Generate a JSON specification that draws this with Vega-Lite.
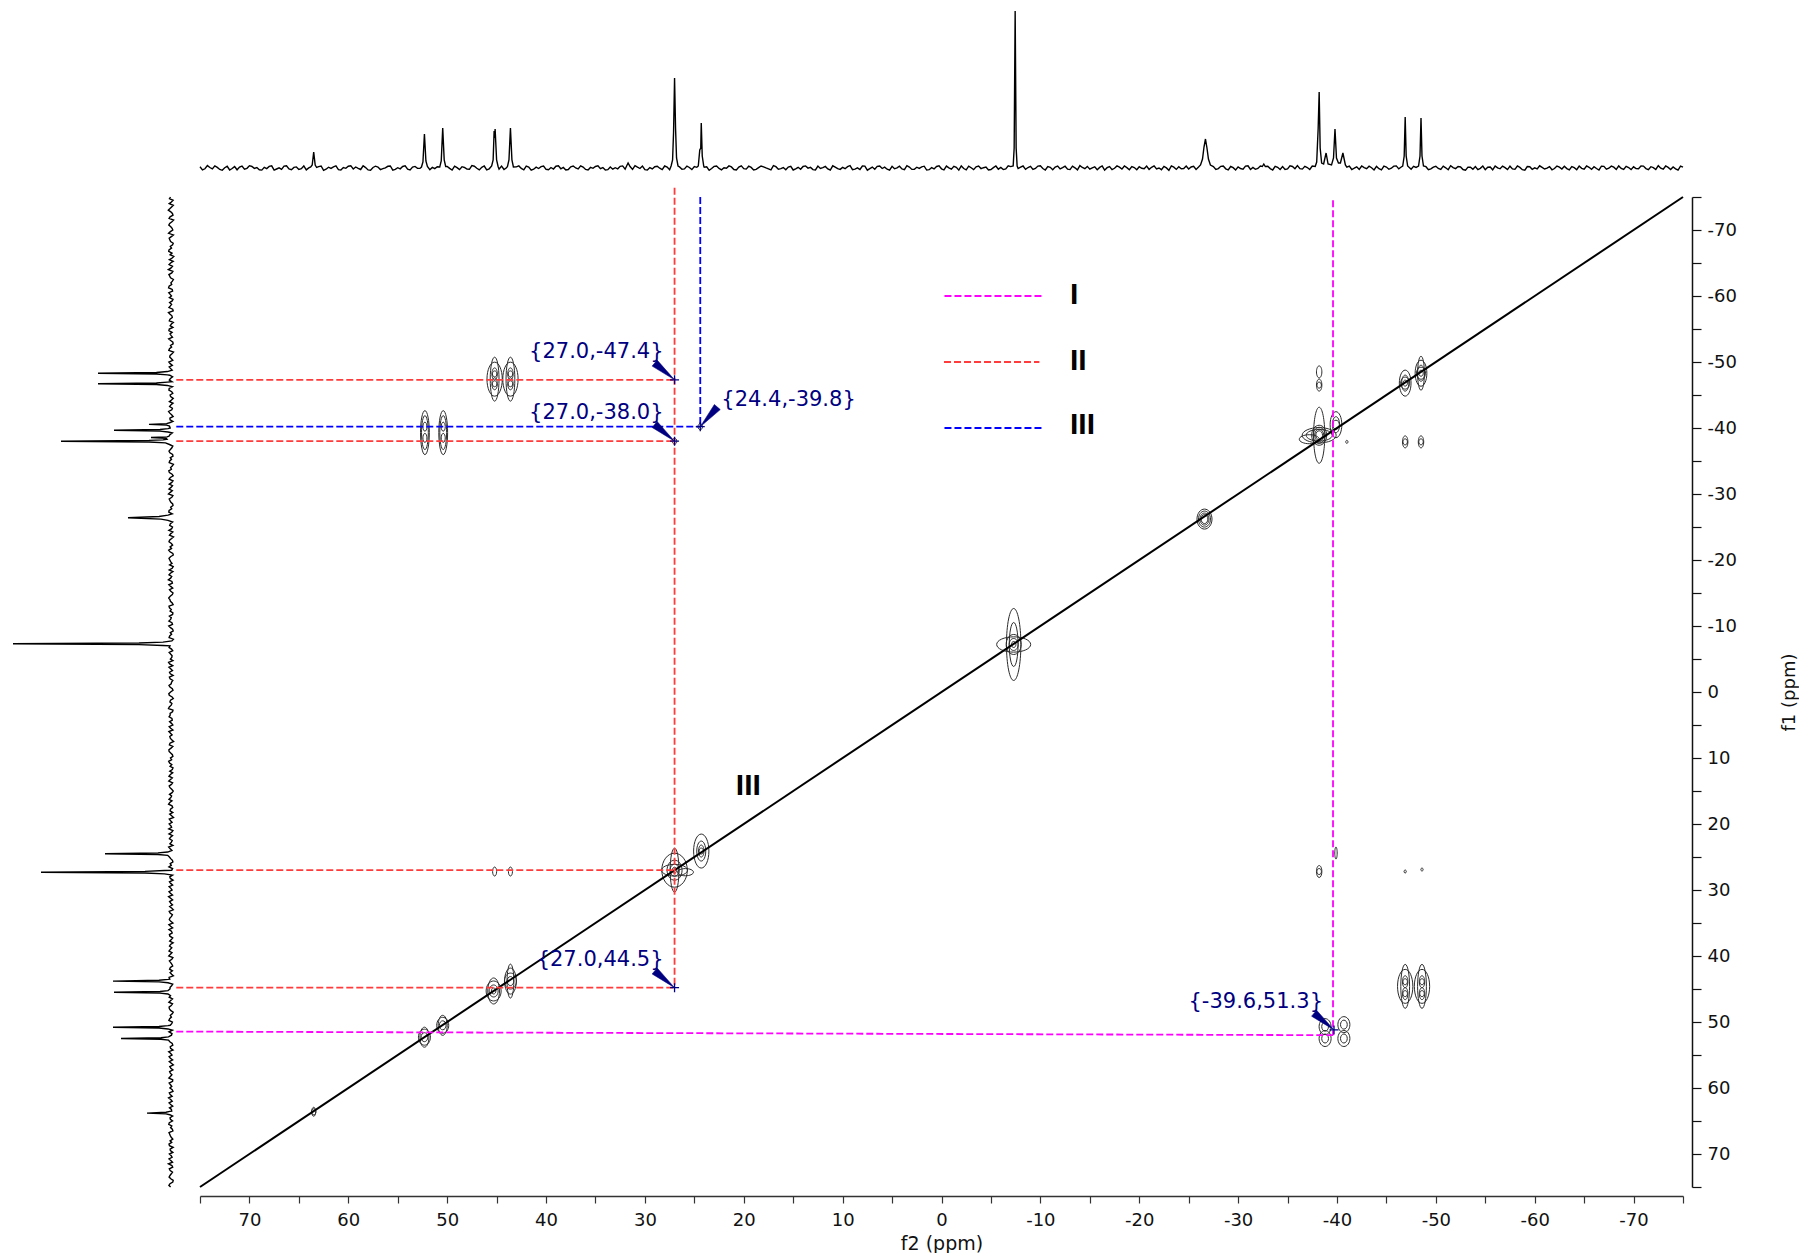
{
"$schema": "https://vega.github.io/schema/vega-lite/v6.json",
"background": "white",
"padding": {"left": 10, "top": 8, "right": 0, "bottom": 0},
"config": {"view": {"stroke": null}, "font": "DejaVu Sans"},
"bounds": "flush",
"spacing": 24,
"columns": 2,
"resolve": {"scale": {"x": "independent", "y": "independent"}, "axis": {"x": "independent", "y": "independent"}},
"datasets": {
"top": [
{"p":75.0,"i":1.2},{"p":74.5,"i":-0.8},{"p":74.0,"i":0.5},{"p":73.5,"i":2.1},{"p":73.0,"i":-1.5},{"p":72.5,"i":0.3},{"p":72.0,"i":-2.0},{"p":71.5,"i":1.4},{"p":71.0,"i":0.9},{"p":70.5,"i":-1.1},
{"p":70.0,"i":2.3},{"p":69.5,"i":-0.4},{"p":69.0,"i":-1.8},{"p":68.5,"i":0.7},{"p":68.0,"i":1.6},{"p":67.5,"i":-2.2},{"p":67.0,"i":0.2},{"p":66.5,"i":1.9},{"p":66.0,"i":-0.9},{"p":65.5,"i":0.6},
{"p":65.0,"i":-1.4},{"p":64.5,"i":2.0},{"p":64.0,"i":0.1},{"p":63.8,"i":1},{"p":63.65,"i":3},{"p":63.5,"i":16},{"p":63.35,"i":3},{"p":63.2,"i":0.5},{"p":63.0,"i":1.3},{"p":62.5,"i":-2.4},
{"p":62.0,"i":0.8},{"p":61.5,"i":1.1},{"p":61.0,"i":-1.6},{"p":60.5,"i":0.4},{"p":60.0,"i":1.8},{"p":59.5,"i":-1.0},{"p":59.0,"i":-0.3},{"p":58.5,"i":2.2},{"p":58.0,"i":-1.9},{"p":57.5,"i":0.5},
{"p":57.0,"i":1.0},{"p":56.5,"i":-0.6},{"p":56.0,"i":1.7},{"p":55.5,"i":-2.1},{"p":55.0,"i":0.3},{"p":54.5,"i":1.5},{"p":54.0,"i":-1.2},{"p":53.5,"i":0.9},{"p":53.0,"i":-0.2},
{"p":52.6,"i":1},{"p":52.45,"i":6},{"p":52.3,"i":34},{"p":52.15,"i":7},{"p":52.0,"i":1.5},{"p":51.5,"i":0.6},{"p":51.0,"i":1.2},
{"p":50.75,"i":1},{"p":50.6,"i":7},{"p":50.45,"i":40},{"p":50.3,"i":8},{"p":50.15,"i":1.5},{"p":50.0,"i":1.6},{"p":49.5,"i":-2.0},{"p":49.0,"i":0.4},{"p":48.5,"i":1.3},{"p":48.0,"i":-1.1},
{"p":47.5,"i":2.4},{"p":47.0,"i":-0.3},{"p":46.5,"i":0.7},{"p":46.0,"i":-1.8},
{"p":45.5,"i":2},{"p":45.35,"i":8},{"p":45.25,"i":37},{"p":45.2,"i":30},{"p":45.15,"i":39},{"p":45.0,"i":8},{"p":44.85,"i":1.5},{"p":44.5,"i":1.9},{"p":44.0,"i":0.2},
{"p":43.9,"i":1.5},{"p":43.75,"i":8},{"p":43.6,"i":40},{"p":43.45,"i":8},{"p":43.3,"i":1},{"p":43.0,"i":1.1},{"p":42.5,"i":-0.4},{"p":42.0,"i":2.0},{"p":41.5,"i":-2.2},{"p":41.0,"i":0.8},
{"p":40.5,"i":1.4},{"p":40.0,"i":-1.3},{"p":39.5,"i":0.5},{"p":39.0,"i":1.8},{"p":38.5,"i":-0.8},{"p":38.0,"i":-1.9},{"p":37.5,"i":1.2},{"p":37.0,"i":0.0},{"p":36.5,"i":2.2},{"p":36.0,"i":-1.4},
{"p":35.5,"i":0.6},{"p":35.0,"i":1.5},{"p":34.5,"i":-0.7},{"p":34.0,"i":-2.1},{"p":33.5,"i":1.0},{"p":33.0,"i":0.3},{"p":32.5,"i":1.7},{"p":32.0,"i":-1.2},{"p":31.85,"i":2},{"p":31.7,"i":5},{"p":31.5,"i":1.5},
{"p":31.0,"i":2.3},{"p":30.5,"i":-0.5},{"p":30.0,"i":-1.6},{"p":29.5,"i":0.4},{"p":29.0,"i":1.3},{"p":28.5,"i":-0.2},{"p":28.0,"i":2.0},{"p":27.5,"i":-1.8},
{"p":27.35,"i":2},{"p":27.2,"i":8},{"p":27.1,"i":36},{"p":27.0,"i":90},{"p":26.9,"i":40},{"p":26.8,"i":10},{"p":26.65,"i":2},{"p":26.5,"i":1.1},{"p":26.0,"i":-0.9},{"p":25.5,"i":0.5},{"p":25.0,"i":1.4},
{"p":24.6,"i":2},{"p":24.45,"i":18},{"p":24.35,"i":20},{"p":24.3,"i":45},{"p":24.2,"i":12},{"p":24.05,"i":2},{"p":24.0,"i":0.8},{"p":23.5,"i":-2.3},{"p":23.0,"i":1.6},{"p":22.5,"i":-0.4},
{"p":22.0,"i":0.2},{"p":21.5,"i":2.1},{"p":21.0,"i":-1.5},{"p":20.5,"i":0.9},{"p":20.0,"i":-0.6},{"p":19.5,"i":1.8},{"p":19.0,"i":-1.9},{"p":18.5,"i":0.3},{"p":18.0,"i":1.2},{"p":17.5,"i":-0.8},
{"p":17.0,"i":2.4},{"p":16.5,"i":-1.3},{"p":16.0,"i":0.5},{"p":15.5,"i":1.0},{"p":15.0,"i":-2.0},{"p":14.5,"i":0.7},{"p":14.0,"i":1.5},{"p":13.5,"i":-0.1},{"p":13.0,"i":-1.6},{"p":12.5,"i":1.9},
{"p":12.0,"i":0.4},{"p":11.5,"i":-1.0},{"p":11.0,"i":2.2},{"p":10.5,"i":-0.7},{"p":10.0,"i":0.6},{"p":9.5,"i":1.3},{"p":9.0,"i":-1.7},{"p":8.5,"i":0.1},{"p":8.0,"i":2.0},{"p":7.5,"i":-2.2},
{"p":7.0,"i":0.9},{"p":6.5,"i":1.6},{"p":6.0,"i":-0.5},{"p":5.5,"i":-1.2},{"p":5.0,"i":1.7},{"p":4.5,"i":0.2},{"p":4.0,"i":-0.9},{"p":3.5,"i":2.3},{"p":3.0,"i":-1.4},{"p":2.5,"i":0.8},
{"p":2.0,"i":1.1},{"p":1.5,"i":-2.1},{"p":1.0,"i":0.4},{"p":0.5,"i":1.5},{"p":0.0,"i":-0.8},{"p":-0.5,"i":1.9},{"p":-1.0,"i":-1.1},{"p":-1.5,"i":0.6},{"p":-2.0,"i":2.1},{"p":-2.5,"i":-1.8},
{"p":-3.0,"i":0.3},{"p":-3.5,"i":1.2},{"p":-4.0,"i":-0.6},{"p":-4.5,"i":0.9},{"p":-5.0,"i":-1.5},{"p":-5.5,"i":2.0},{"p":-6.0,"i":0.5},{"p":-6.5,"i":-1.0},{"p":-7.0,"i":1.4},
{"p":-7.25,"i":2},{"p":-7.35,"i":20},{"p":-7.45,"i":157},{"p":-7.55,"i":20},{"p":-7.65,"i":2},{"p":-8.0,"i":0.8},{"p":-8.5,"i":-1.3},{"p":-9.0,"i":1.6},{"p":-9.5,"i":-0.4},
{"p":-10.0,"i":2.2},{"p":-10.5,"i":-2.0},{"p":-11.0,"i":0.7},{"p":-11.5,"i":1.0},{"p":-12.0,"i":-0.9},{"p":-12.5,"i":1.8},{"p":-13.0,"i":-1.6},{"p":-13.5,"i":0.2},{"p":-14.0,"i":2.4},{"p":-14.5,"i":-0.7},
{"p":-15.0,"i":-1.2},{"p":-15.5,"i":1.1},{"p":-16.0,"i":0.6},{"p":-16.5,"i":-2.2},{"p":-17.0,"i":1.5},{"p":-17.5,"i":-0.3},{"p":-18.0,"i":0.9},{"p":-18.5,"i":2.0},{"p":-19.0,"i":-1.7},{"p":-19.5,"i":0.4},
{"p":-20.0,"i":1.3},{"p":-20.5,"i":-0.8},{"p":-21.0,"i":-1.4},{"p":-21.5,"i":2.1},{"p":-22.0,"i":0.0},{"p":-22.5,"i":1.6},{"p":-23.0,"i":-2.3},{"p":-23.5,"i":0.8},{"p":-24.0,"i":1.2},{"p":-24.5,"i":-0.5},
{"p":-25.0,"i":-1.0},{"p":-25.5,"i":1.7},{"p":-26.0,"i":0.9},{"p":-26.2,"i":3},{"p":-26.4,"i":9},{"p":-26.55,"i":21},{"p":-26.7,"i":29},{"p":-26.85,"i":20},{"p":-27.0,"i":9},{"p":-27.2,"i":3},
{"p":-27.5,"i":1.4},{"p":-28.0,"i":-0.6},{"p":-28.5,"i":2.0},{"p":-29.0,"i":-1.9},{"p":-29.5,"i":0.3},{"p":-30.0,"i":1.1},{"p":-30.5,"i":-1.3},{"p":-31.0,"i":2.2},{"p":-31.5,"i":0.6},{"p":-32.0,"i":-0.4},
{"p":-32.45,"i":1.5},{"p":-32.6,"i":4},{"p":-32.75,"i":1.5},{"p":-33.0,"i":1.8},{"p":-33.5,"i":-2.0},{"p":-34.0,"i":0.7},{"p":-34.5,"i":1.4},{"p":-35.0,"i":-0.9},{"p":-35.5,"i":1.5},{"p":-36.0,"i":2.4},
{"p":-36.5,"i":-1.1},{"p":-37.0,"i":0.5},{"p":-37.5,"i":1.9},
{"p":-37.8,"i":1.5},{"p":-37.95,"i":6},{"p":-38.1,"i":40},{"p":-38.2,"i":76},{"p":-38.3,"i":20},{"p":-38.45,"i":5},{"p":-38.65,"i":4},{"p":-38.9,"i":15},{"p":-39.1,"i":4},{"p":-39.45,"i":3},
{"p":-39.65,"i":10},{"p":-39.8,"i":39},{"p":-39.95,"i":10},{"p":-40.15,"i":5},{"p":-40.35,"i":5},{"p":-40.6,"i":15},{"p":-40.85,"i":3},
{"p":-41.0,"i":0.8},{"p":-41.5,"i":-1.5},{"p":-42.0,"i":1.2},{"p":-42.5,"i":2.0},{"p":-43.0,"i":-0.7},{"p":-43.5,"i":0.3},{"p":-44.0,"i":1.6},{"p":-44.5,"i":-1.8},{"p":-45.0,"i":0.9},{"p":-45.5,"i":-0.2},
{"p":-46.0,"i":2.1},{"p":-46.5,"i":1.0},{"p":-46.65,"i":2},{"p":-46.8,"i":12},{"p":-46.9,"i":51},{"p":-47.0,"i":12},{"p":-47.15,"i":2},{"p":-47.5,"i":-1.2},{"p":-48.0,"i":0.6},
{"p":-48.25,"i":2},{"p":-48.4,"i":12},{"p":-48.5,"i":50},{"p":-48.6,"i":12},{"p":-48.75,"i":2},{"p":-49.0,"i":1.3},{"p":-49.5,"i":-0.9},
{"p":-50.0,"i":1.7},{"p":-50.5,"i":-1.4},{"p":-51.0,"i":0.2},{"p":-51.5,"i":2.3},{"p":-52.0,"i":-0.6},{"p":-52.5,"i":1.1},{"p":-53.0,"i":-2.1},{"p":-53.5,"i":0.8},{"p":-54.0,"i":1.5},{"p":-54.5,"i":-0.3},
{"p":-55.0,"i":-1.7},{"p":-55.5,"i":1.0},{"p":-56.0,"i":2.0},{"p":-56.5,"i":-0.8},{"p":-57.0,"i":0.4},{"p":-57.5,"i":1.8},{"p":-58.0,"i":-1.3},{"p":-58.5,"i":0.6},{"p":-59.0,"i":-2.2},{"p":-59.5,"i":1.2},
{"p":-60.0,"i":0.1},{"p":-60.5,"i":2.2},{"p":-61.0,"i":-1.0},{"p":-61.5,"i":1.4},{"p":-62.0,"i":-0.5},{"p":-62.5,"i":0.9},{"p":-63.0,"i":1.7},{"p":-63.5,"i":-1.9},{"p":-64.0,"i":0.3},{"p":-64.5,"i":2.0},
{"p":-65.0,"i":-1.1},{"p":-65.5,"i":0.7},{"p":-66.0,"i":1.3},{"p":-66.5,"i":-2.0},{"p":-67.0,"i":1.6},{"p":-67.5,"i":-0.2},{"p":-68.0,"i":0.8},{"p":-68.5,"i":2.1},{"p":-69.0,"i":-1.5},{"p":-69.5,"i":0.5},
{"p":-70.0,"i":1.2},{"p":-70.5,"i":-0.7},{"p":-71.0,"i":1.9},{"p":-71.5,"i":-1.6},{"p":-72.0,"i":0.4},{"p":-72.5,"i":2.3},{"p":-73.0,"i":-1.2},{"p":-73.5,"i":0.6},{"p":-74.0,"i":1.0},{"p":-74.5,"i":-2.0},{"p":-75.0,"i":0.8},
{"p":74.75,"i":-1.9},{"p":74.25,"i":2.4},{"p":73.75,"i":-0.9},{"p":73.25,"i":0.6},{"p":72.75,"i":-2.3},{"p":72.25,"i":1.7},{"p":71.75,"i":-0.5},{"p":71.25,"i":-1.8},{"p":70.75,"i":2.0},{"p":70.25,"i":-0.3},
{"p":69.75,"i":1.5},{"p":69.25,"i":0.4},{"p":68.75,"i":-2.1},{"p":68.25,"i":-0.6},{"p":67.75,"i":2.2},{"p":67.25,"i":-1.0},{"p":66.75,"i":-1.4},{"p":66.25,"i":2.3},{"p":65.75,"i":-1.7},{"p":65.25,"i":1.1},
{"p":64.75,"i":-0.7},{"p":64.25,"i":-1.9},{"p":62.75,"i":2.0},{"p":62.25,"i":-1.2},{"p":61.75,"i":-0.4},{"p":61.25,"i":2.1},{"p":60.75,"i":-2.0},{"p":60.25,"i":-0.3},
{"p":59.75,"i":2.3},{"p":59.25,"i":1.0},{"p":58.75,"i":-1.5},{"p":58.25,"i":0.4},{"p":57.75,"i":-2.2},{"p":57.25,"i":1.8},{"p":56.75,"i":-1.6},{"p":56.25,"i":0.2},{"p":55.75,"i":2.0},{"p":55.25,"i":-1.3},
{"p":54.75,"i":-0.8},{"p":54.25,"i":2.2},{"p":53.75,"i":-1.9},{"p":53.25,"i":1.6},{"p":52.75,"i":-0.4},{"p":51.75,"i":-1.7},{"p":51.25,"i":-0.6},
{"p":49.75,"i":-0.4},{"p":49.25,"i":1.9},{"p":48.75,"i":-1.6},{"p":48.25,"i":0.5},{"p":47.75,"i":-1.3},{"p":47.25,"i":1.8},{"p":46.75,"i":-1.9},{"p":46.25,"i":2.0},{"p":45.75,"i":-0.8},
{"p":44.75,"i":-1.2},{"p":44.25,"i":-1.5},{"p":42.75,"i":2.1},{"p":42.25,"i":-1.8},{"p":41.75,"i":1.0},{"p":41.25,"i":-1.2},{"p":40.75,"i":-0.5},{"p":40.25,"i":2.0},
{"p":39.75,"i":-1.7},{"p":39.25,"i":-1.0},{"p":38.75,"i":2.3},{"p":38.25,"i":0.6},{"p":37.75,"i":-1.5},{"p":37.25,"i":2.0},{"p":36.75,"i":-0.9},{"p":36.25,"i":0.9},{"p":35.75,"i":-2.0},{"p":35.25,"i":-0.3},
{"p":34.75,"i":2.2},{"p":34.25,"i":0.5},{"p":33.75,"i":-1.7},{"p":33.25,"i":-1.2},{"p":32.75,"i":-0.8},{"p":32.25,"i":2.1},{"p":31.25,"i":-1.4},{"p":30.75,"i":0.8},{"p":30.25,"i":1.9},
{"p":29.75,"i":-2.1},{"p":29.25,"i":-0.9},{"p":28.75,"i":1.8},{"p":28.25,"i":-1.6},{"p":27.75,"i":0.9},{"p":26.25,"i":-1.3},{"p":25.75,"i":1.9},{"p":25.25,"i":-1.6},
{"p":24.75,"i":0.7},{"p":23.75,"i":1.2},{"p":23.25,"i":-0.5},{"p":22.75,"i":1.9},{"p":22.25,"i":-1.8},{"p":21.75,"i":-0.2},{"p":21.25,"i":1.1},{"p":20.75,"i":-2.0},{"p":20.25,"i":2.2},
{"p":19.75,"i":-1.1},{"p":19.25,"i":0.6},{"p":18.75,"i":-1.4},{"p":18.25,"i":2.0},{"p":17.75,"i":0.1},{"p":17.25,"i":-1.9},{"p":16.75,"i":1.3},{"p":16.25,"i":-0.6},{"p":15.75,"i":-1.8},{"p":15.25,"i":1.7},
{"p":14.75,"i":-0.9},{"p":14.25,"i":-1.3},{"p":13.75,"i":2.1},{"p":13.25,"i":0.6},{"p":12.75,"i":-1.9},{"p":12.25,"i":-0.4},{"p":11.75,"i":1.6},{"p":11.25,"i":-2.0},{"p":10.75,"i":0.9},{"p":10.25,"i":-1.4},
{"p":9.75,"i":-0.7},{"p":9.25,"i":2.3},{"p":8.75,"i":-1.1},{"p":8.25,"i":-1.5},{"p":7.75,"i":1.9},{"p":7.25,"i":-0.6},{"p":6.75,"i":-1.3},{"p":6.25,"i":2.0},{"p":5.75,"i":0.8},{"p":5.25,"i":-2.1},
{"p":4.75,"i":-0.8},{"p":4.25,"i":1.8},{"p":3.75,"i":-1.6},{"p":3.25,"i":0.9},{"p":2.75,"i":-1.2},{"p":2.25,"i":-0.4},{"p":1.75,"i":1.8},{"p":1.25,"i":-1.7},{"p":0.75,"i":-0.9},{"p":0.25,"i":2.1},
{"p":-0.25,"i":-1.8},{"p":-0.75,"i":0.2},{"p":-1.25,"i":1.7},{"p":-1.75,"i":-2.1},{"p":-2.25,"i":-0.5},{"p":-2.75,"i":1.9},{"p":-3.25,"i":-1.6},{"p":-3.75,"i":2.0},{"p":-4.25,"i":0.3},{"p":-4.75,"i":-1.9},
{"p":-5.25,"i":0.4},{"p":-5.75,"i":-1.2},{"p":-6.25,"i":-1.6},{"p":-6.75,"i":2.2},{"p":-7.75,"i":-0.6},{"p":-8.25,"i":2.0},{"p":-8.75,"i":0.5},{"p":-9.25,"i":-1.5},{"p":-9.75,"i":1.9},
{"p":-10.25,"i":-0.5},{"p":-10.75,"i":1.5},{"p":-11.25,"i":-1.8},{"p":-11.75,"i":2.0},{"p":-12.25,"i":0.3},{"p":-12.75,"i":-1.2},{"p":-13.25,"i":1.9},{"p":-13.75,"i":-1.9},{"p":-14.25,"i":0.5},{"p":-14.75,"i":1.6},
{"p":-15.25,"i":0.2},{"p":-15.75,"i":-1.7},{"p":-16.25,"i":2.1},{"p":-16.75,"i":0.3},{"p":-17.25,"i":-1.6},{"p":-17.75,"i":2.1},{"p":-18.25,"i":-1.1},{"p":-18.75,"i":0.4},{"p":-19.25,"i":1.4},{"p":-19.75,"i":-1.8},
{"p":-20.25,"i":-0.3},{"p":-20.75,"i":2.0},{"p":-21.25,"i":0.7},{"p":-21.75,"i":-1.0},{"p":-22.25,"i":-1.7},{"p":-22.75,"i":0.1},{"p":-23.25,"i":2.1},{"p":-23.75,"i":-1.4},{"p":-24.25,"i":-0.8},{"p":-24.75,"i":1.9},
{"p":-25.25,"i":1.0},{"p":-25.75,"i":-1.5},{"p":-27.75,"i":-1.5},{"p":-28.25,"i":1.7},{"p":-28.75,"i":-0.8},{"p":-29.25,"i":1.5},{"p":-29.75,"i":-2.0},
{"p":-30.25,"i":-0.5},{"p":-30.75,"i":1.9},{"p":-31.25,"i":-1.5},{"p":-31.75,"i":-1.3},{"p":-32.25,"i":1.9},{"p":-33.25,"i":-0.6},{"p":-33.75,"i":1.7},{"p":-34.25,"i":-1.5},{"p":-34.75,"i":-1.4},
{"p":-35.25,"i":2.1},{"p":-35.75,"i":-0.8},{"p":-36.25,"i":-0.7},{"p":-36.75,"i":1.6},{"p":-37.25,"i":-1.5},{"p":-41.25,"i":1.9},{"p":-41.75,"i":-0.2},{"p":-42.25,"i":-1.4},{"p":-42.75,"i":0.4},
{"p":-43.25,"i":1.8},{"p":-43.75,"i":-1.9},{"p":-44.25,"i":-0.7},{"p":-44.75,"i":1.8},{"p":-45.25,"i":-1.3},{"p":-45.75,"i":1.9},{"p":-46.25,"i":-0.9},{"p":-47.75,"i":1.7},
{"p":-49.25,"i":-1.6},{"p":-49.75,"i":0.8},{"p":-50.25,"i":-0.5},{"p":-50.75,"i":1.9},{"p":-51.25,"i":-1.7},{"p":-51.75,"i":0.4},{"p":-52.25,"i":1.5},{"p":-52.75,"i":-1.5},
{"p":-53.25,"i":0.9},{"p":-53.75,"i":-1.3},{"p":-54.25,"i":-1.6},{"p":-54.75,"i":2.0},{"p":-55.25,"i":0.8},{"p":-55.75,"i":-1.8},{"p":-56.25,"i":0.1},{"p":-56.75,"i":1.9},{"p":-57.25,"i":-1.6},{"p":-57.75,"i":-0.9},
{"p":-58.25,"i":2.0},{"p":-58.75,"i":-1.7},{"p":-59.25,"i":1.4},{"p":-59.75,"i":-1.3},{"p":-60.25,"i":-0.9},{"p":-60.75,"i":0.6},{"p":-61.25,"i":-0.1},{"p":-61.75,"i":-1.8},{"p":-62.25,"i":2.0},{"p":-62.75,"i":-1.0},
{"p":-63.25,"i":-0.6},{"p":-63.75,"i":1.4},{"p":-64.25,"i":-1.7},{"p":-64.75,"i":-0.3},{"p":-65.25,"i":2.0},{"p":-65.75,"i":-1.4},{"p":-66.25,"i":-0.5},{"p":-66.75,"i":1.8},{"p":-67.25,"i":-1.1},{"p":-67.75,"i":1.9},
{"p":-68.25,"i":-1.5},{"p":-68.75,"i":-0.4},{"p":-69.25,"i":1.7},{"p":-69.75,"i":-1.6},{"p":-70.25,"i":-0.5},{"p":-70.75,"i":2.0},{"p":-71.25,"i":-0.6},{"p":-71.75,"i":1.3},{"p":-72.25,"i":-1.5},{"p":-72.75,"i":-0.2},
{"p":-73.25,"i":2.0},{"p":-73.75,"i":-1.5},{"p":-74.25,"i":-0.8},{"p":-74.75,"i":1.9}
],
"left": [
{"p":-75.0,"i":0.5},{"p":-74.5,"i":-2.1},{"p":-74.0,"i":1.8},{"p":-73.5,"i":-0.6},{"p":-73.0,"i":2.7},{"p":-72.5,"i":-1.4},{"p":-72.0,"i":0.9},{"p":-71.5,"i":-2.6},{"p":-71.0,"i":1.3},{"p":-70.5,"i":0.2},
{"p":-70.0,"i":-1.8},{"p":-69.5,"i":2.4},{"p":-69.0,"i":-0.3},{"p":-68.5,"i":1.1},{"p":-68.0,"i":-2.2},{"p":-67.5,"i":0.7},{"p":-67.0,"i":2.0},{"p":-66.5,"i":-1.0},{"p":-66.0,"i":-2.8},{"p":-65.5,"i":1.6},
{"p":-65.0,"i":0.4},{"p":-64.5,"i":-1.5},{"p":-64.0,"i":2.6},{"p":-63.5,"i":-0.8},{"p":-63.0,"i":1.2},{"p":-62.5,"i":-2.4},{"p":-62.0,"i":0.1},{"p":-61.5,"i":1.9},{"p":-61.0,"i":-1.2},{"p":-60.5,"i":2.2},
{"p":-60.0,"i":-0.5},{"p":-59.5,"i":-2.0},{"p":-59.0,"i":1.4},{"p":-58.5,"i":0.6},{"p":-58.0,"i":-1.7},{"p":-57.5,"i":2.5},{"p":-57.0,"i":-0.9},{"p":-56.5,"i":1.0},{"p":-56.0,"i":-2.3},{"p":-55.5,"i":0.8},
{"p":-55.0,"i":1.7},{"p":-54.5,"i":-1.1},{"p":-54.0,"i":-0.2},{"p":-53.5,"i":2.3},{"p":-53.0,"i":-1.9},{"p":-52.5,"i":0.5},{"p":-52.0,"i":1.5},{"p":-51.5,"i":-2.5},{"p":-51.0,"i":0.9},{"p":-50.5,"i":-0.4},
{"p":-50.0,"i":2.1},{"p":-49.5,"i":-1.3},{"p":-49.0,"i":0.3},{"p":-48.55,"i":3.6},{"p":-48.42,"i":14.6},{"p":-48.3,"i":73},{"p":-48.18,"i":14.6},{"p":-48.05,"i":3.6},{"p":-48.0,"i":1.2},{"p":-47.5,"i":0.6},
{"p":-47.0,"i":-1.0},{"p":-46.95,"i":3.6},{"p":-46.82,"i":14.6},{"p":-46.7,"i":73},{"p":-46.58,"i":14.6},{"p":-46.45,"i":3.6},{"p":-46.0,"i":1.8},{"p":-45.5,"i":-0.7},{"p":-45.0,"i":0.9},{"p":-44.5,"i":-2.2},
{"p":-44.0,"i":1.6},{"p":-43.5,"i":0.2},{"p":-43.0,"i":-1.4},{"p":-42.5,"i":2.4},{"p":-42.0,"i":-0.6},{"p":-41.5,"i":1.1},{"p":-41.0,"i":-1.9},
{"p":-40.8,"i":1.5},{"p":-40.67,"i":4.4},{"p":-40.55,"i":22},{"p":-40.43,"i":4.4},{"p":-40.3,"i":1.5},{"p":-40.0,"i":0.8},
{"p":-39.9,"i":3},{"p":-39.77,"i":11},{"p":-39.65,"i":57},{"p":-39.53,"i":11},{"p":-39.4,"i":3},{"p":-39.0,"i":1.0},
{"p":-38.75,"i":2},{"p":-38.65,"i":4},{"p":-38.55,"i":20},{"p":-38.45,"i":5},{"p":-38.3,"i":4},{"p":-38.2,"i":8},{"p":-38.12,"i":22},{"p":-38.0,"i":110},{"p":-37.88,"i":22},{"p":-37.75,"i":5.5},
{"p":-37.5,"i":1.5},{"p":-37.0,"i":-0.9},{"p":-36.5,"i":2.0},{"p":-36.0,"i":-1.6},{"p":-35.5,"i":0.7},{"p":-35.0,"i":1.3},{"p":-34.5,"i":-2.4},{"p":-34.0,"i":0.4},{"p":-33.5,"i":2.2},{"p":-33.0,"i":-1.1},
{"p":-32.5,"i":0.6},{"p":-32.0,"i":-2.0},{"p":-31.5,"i":1.7},{"p":-31.0,"i":0.0},{"p":-30.5,"i":-1.3},{"p":-30.0,"i":2.5},{"p":-29.5,"i":-0.8},{"p":-29.0,"i":1.0},{"p":-28.5,"i":-1.7},{"p":-28.0,"i":0.3},
{"p":-27.5,"i":1.9},{"p":-27.0,"i":-1.2},{"p":-26.8,"i":3},{"p":-26.6,"i":12},{"p":-26.4,"i":43},{"p":-26.2,"i":10},{"p":-26.0,"i":3},{"p":-25.5,"i":0.6},{"p":-25.0,"i":-1.5},{"p":-24.5,"i":2.1},
{"p":-24.0,"i":0.2},{"p":-23.5,"i":-2.5},{"p":-23.0,"i":1.4},{"p":-22.5,"i":-0.4},{"p":-22.0,"i":0.9},{"p":-21.5,"i":2.3},{"p":-21.0,"i":-1.8},{"p":-20.5,"i":0.5},{"p":-20.0,"i":1.2},{"p":-19.5,"i":-1.0},
{"p":-19.0,"i":-2.2},{"p":-18.5,"i":1.8},{"p":-18.0,"i":0.6},{"p":-17.5,"i":-0.7},{"p":-17.0,"i":2.6},{"p":-16.5,"i":-1.4},{"p":-16.0,"i":0.3},{"p":-15.5,"i":1.5},{"p":-15.0,"i":-2.0},{"p":-14.5,"i":0.8},
{"p":-14.0,"i":1.1},{"p":-13.5,"i":-1.2},{"p":-13.0,"i":2.0},{"p":-12.5,"i":-0.3},{"p":-12.0,"i":-1.9},{"p":-11.5,"i":1.6},{"p":-11.0,"i":0.4},{"p":-10.5,"i":-0.9},{"p":-10.0,"i":2.2},{"p":-9.5,"i":-1.6},
{"p":-9.0,"i":0.7},{"p":-8.5,"i":1.3},{"p":-8.0,"i":-2.4},{"p":-7.55,"i":8},{"p":-7.42,"i":32},{"p":-7.3,"i":158},{"p":-7.18,"i":32},{"p":-7.05,"i":8},{"p":-7.0,"i":1.0},{"p":-6.5,"i":-0.5},
{"p":-6.0,"i":1.8},{"p":-5.5,"i":-1.1},{"p":-5.0,"i":0.6},{"p":-4.5,"i":2.4},{"p":-4.0,"i":-1.7},{"p":-3.5,"i":0.1},{"p":-3.0,"i":1.5},{"p":-2.5,"i":-2.1},{"p":-2.0,"i":0.9},{"p":-1.5,"i":-0.6},
{"p":-1.0,"i":2.0},{"p":-0.5,"i":-1.3},{"p":0.0,"i":0.4},{"p":0.5,"i":1.7},{"p":1.0,"i":-2.3},{"p":1.5,"i":1.1},{"p":2.0,"i":-0.2},{"p":2.5,"i":2.5},{"p":3.0,"i":-1.5},{"p":3.5,"i":0.8},
{"p":4.0,"i":-0.9},{"p":4.5,"i":1.4},{"p":5.0,"i":-1.8},{"p":5.5,"i":0.3},{"p":6.0,"i":2.1},{"p":6.5,"i":-1.1},{"p":7.0,"i":0.7},{"p":7.5,"i":-2.6},{"p":8.0,"i":1.6},{"p":8.5,"i":0.0},
{"p":9.0,"i":1.9},{"p":9.5,"i":-1.4},{"p":10.0,"i":0.5},{"p":10.5,"i":2.3},{"p":11.0,"i":-0.8},{"p":11.5,"i":-2.0},{"p":12.0,"i":1.2},{"p":12.5,"i":0.6},{"p":13.0,"i":-1.3},{"p":13.5,"i":2.2},
{"p":14.0,"i":-0.4},{"p":14.5,"i":1.0},{"p":15.0,"i":-2.2},{"p":15.5,"i":1.5},{"p":16.0,"i":0.2},{"p":16.5,"i":-1.0},{"p":17.0,"i":2.4},{"p":17.5,"i":-1.7},{"p":18.0,"i":0.9},{"p":18.5,"i":1.3},
{"p":19.0,"i":-2.5},{"p":19.5,"i":0.4},{"p":20.0,"i":1.8},{"p":20.5,"i":-0.6},{"p":21.0,"i":-1.9},{"p":21.5,"i":2.0},{"p":22.0,"i":0.5},{"p":22.5,"i":-1.2},{"p":23.0,"i":1.1},{"p":23.5,"i":2.3},
{"p":24.0,"i":-0.9},{"p":24.25,"i":3.3},{"p":24.38,"i":13},{"p":24.5,"i":66},{"p":24.62,"i":13},{"p":24.75,"i":3.3},{"p":25.0,"i":1.6},{"p":25.5,"i":-1.4},{"p":26.0,"i":0.8},{"p":26.5,"i":2.1},
{"p":27.0,"i":-0.7},{"p":27.05,"i":6.5},{"p":27.18,"i":26},{"p":27.3,"i":130},{"p":27.42,"i":26},{"p":27.55,"i":6.5},{"p":28.0,"i":1.2},{"p":28.5,"i":-2.0},{"p":29.0,"i":0.3},{"p":29.5,"i":1.9},
{"p":30.0,"i":-1.1},{"p":30.5,"i":0.6},{"p":31.0,"i":2.4},{"p":31.5,"i":-1.6},{"p":32.0,"i":0.2},{"p":32.5,"i":1.3},{"p":33.0,"i":-2.3},{"p":33.5,"i":0.9},{"p":34.0,"i":-0.5},{"p":34.5,"i":1.7},
{"p":35.0,"i":-1.9},{"p":35.5,"i":0.4},{"p":36.0,"i":2.0},{"p":36.5,"i":-1.2},{"p":37.0,"i":1.1},{"p":37.5,"i":-0.3},{"p":38.0,"i":-2.1},{"p":38.5,"i":1.5},{"p":39.0,"i":0.7},{"p":39.5,"i":-1.0},
{"p":40.0,"i":2.2},{"p":40.5,"i":-0.8},{"p":41.0,"i":0.3},{"p":41.5,"i":-1.7},{"p":42.0,"i":1.4},{"p":42.5,"i":0.9},{"p":43.0,"i":-2.4},{"p":43.5,"i":1.2},
{"p":43.55,"i":3},{"p":43.68,"i":12},{"p":43.8,"i":58},{"p":43.92,"i":12},{"p":44.05,"i":3},{"p":44.5,"i":-0.6},{"p":45.0,"i":1.0},
{"p":45.25,"i":3},{"p":45.38,"i":11},{"p":45.5,"i":57},{"p":45.62,"i":11},{"p":45.75,"i":3},{"p":46.0,"i":0.5},{"p":46.5,"i":-1.5},{"p":47.0,"i":2.1},{"p":47.5,"i":-0.2},{"p":48.0,"i":1.6},
{"p":48.5,"i":-2.2},{"p":49.0,"i":0.7},{"p":49.5,"i":1.3},{"p":50.0,"i":-1.4},{"p":50.5,"i":0.8},
{"p":50.55,"i":3},{"p":50.68,"i":12},{"p":50.8,"i":58},{"p":50.92,"i":12},{"p":51.05,"i":3},{"p":51.5,"i":2.0},{"p":52.0,"i":-0.5},
{"p":52.25,"i":2.5},{"p":52.38,"i":10},{"p":52.5,"i":50},{"p":52.62,"i":10},{"p":52.75,"i":2.5},{"p":53.0,"i":1.2},{"p":53.5,"i":-1.8},{"p":54.0,"i":0.4},{"p":54.5,"i":2.3},
{"p":55.0,"i":-1.0},{"p":55.5,"i":0.6},{"p":56.0,"i":1.7},{"p":56.5,"i":-2.3},{"p":57.0,"i":0.2},{"p":57.5,"i":1.4},{"p":58.0,"i":-0.9},{"p":58.5,"i":2.1},{"p":59.0,"i":-1.6},{"p":59.5,"i":0.5},
{"p":60.0,"i":1.1},{"p":60.5,"i":-2.0},{"p":61.0,"i":0.8},{"p":61.5,"i":2.4},{"p":62.0,"i":-1.2},{"p":62.5,"i":0.3},{"p":63.0,"i":1.5},{"p":63.5,"i":-0.7},
{"p":63.55,"i":1.2},{"p":63.68,"i":5},{"p":63.8,"i":24},{"p":63.92,"i":5},{"p":64.05,"i":1.2},{"p":64.5,"i":1.0},
{"p":65.0,"i":-1.5},{"p":65.5,"i":2.2},{"p":66.0,"i":0.4},{"p":66.5,"i":-1.9},{"p":67.0,"i":1.3},{"p":67.5,"i":-0.4},{"p":68.0,"i":0.9},{"p":68.5,"i":2.0},{"p":69.0,"i":-2.1},{"p":69.5,"i":0.6},
{"p":70.0,"i":1.6},{"p":70.5,"i":-1.1},{"p":71.0,"i":0.2},{"p":71.5,"i":2.5},{"p":72.0,"i":-1.7},{"p":72.5,"i":0.8},{"p":73.0,"i":-0.3},{"p":73.5,"i":1.9},{"p":74.0,"i":-2.2},{"p":74.5,"i":1.0},{"p":75.0,"i":0.4},
{"p":-74.75,"i":1.5},{"p":-74.25,"i":-0.4},{"p":-73.75,"i":-2.3},{"p":-73.25,"i":1.0},{"p":-72.75,"i":0.2},{"p":-72.25,"i":-2.0},{"p":-71.75,"i":1.9},{"p":-71.25,"i":-0.9},{"p":-70.75,"i":2.2},{"p":-70.25,"i":-1.1},
{"p":-69.75,"i":0.6},{"p":-69.25,"i":-2.4},{"p":-68.75,"i":1.8},{"p":-68.25,"i":0.4},{"p":-67.75,"i":-1.6},{"p":-67.25,"i":-0.5},{"p":-66.75,"i":2.3},{"p":-66.25,"i":0.9},{"p":-65.75,"i":-1.2},{"p":-65.25,"i":-2.2},
{"p":-64.75,"i":1.9},{"p":-64.25,"i":-0.1},{"p":-63.75,"i":-1.9},{"p":-63.25,"i":2.1},{"p":-62.75,"i":0.5},{"p":-62.25,"i":-1.4},{"p":-61.75,"i":-0.7},{"p":-61.25,"i":2.4},{"p":-60.75,"i":-1.6},{"p":-60.25,"i":0.8},
{"p":-59.75,"i":1.6},{"p":-59.25,"i":-1.2},{"p":-58.75,"i":-0.6},{"p":-58.25,"i":2.0},{"p":-57.75,"i":-2.2},{"p":-57.25,"i":0.9},{"p":-56.75,"i":-1.3},{"p":-56.25,"i":1.7},{"p":-55.75,"i":-0.4},{"p":-55.25,"i":-1.9},
{"p":-54.75,"i":2.1},{"p":-54.25,"i":1.0},{"p":-53.75,"i":-1.5},{"p":-53.25,"i":0.3},{"p":-52.75,"i":-2.1},{"p":-52.25,"i":-0.6},{"p":-51.75,"i":2.2},{"p":-51.25,"i":-1.0},{"p":-50.75,"i":1.3},{"p":-50.25,"i":-1.8},
{"p":-49.75,"i":0.8},{"p":-49.25,"i":1.8},{"p":-48.75,"i":-1.2},{"p":-47.75,"i":-1.6},{"p":-47.25,"i":1.7},{"p":-46.25,"i":-1.4},{"p":-45.75,"i":2.1},{"p":-45.25,"i":-1.8},{"p":-44.75,"i":0.4},{"p":-44.25,"i":-0.5},
{"p":-43.75,"i":-2.0},{"p":-43.25,"i":1.4},{"p":-42.75,"i":-0.8},{"p":-42.25,"i":1.2},{"p":-41.75,"i":-2.1},{"p":-41.25,"i":0.9},{"p":-39.25,"i":-1.3},{"p":-37.25,"i":-1.8},{"p":-36.75,"i":0.6},{"p":-36.25,"i":1.1},
{"p":-35.75,"i":-2.0},{"p":-35.25,"i":-0.5},{"p":-34.75,"i":1.8},{"p":-34.25,"i":-1.2},{"p":-33.75,"i":-0.4},{"p":-33.25,"i":1.6},{"p":-32.75,"i":-2.2},{"p":-32.25,"i":1.9},{"p":-31.75,"i":-0.8},{"p":-31.25,"i":-1.5},
{"p":-30.75,"i":2.0},{"p":-30.25,"i":0.7},{"p":-29.75,"i":-1.9},{"p":-29.25,"i":1.8},{"p":-28.75,"i":0.1},{"p":-28.25,"i":-2.0},{"p":-27.75,"i":-0.7},{"p":-27.25,"i":2.2},{"p":-25.75,"i":-1.6},{"p":-25.25,"i":1.3},
{"p":-24.75,"i":-0.7},{"p":-24.25,"i":-1.8},{"p":-23.75,"i":1.5},{"p":-23.25,"i":-0.6},{"p":-22.75,"i":2.0},{"p":-22.25,"i":-1.6},{"p":-21.75,"i":-0.5},{"p":-21.25,"i":1.0},{"p":-20.75,"i":-2.3},{"p":-20.25,"i":2.0},
{"p":-19.75,"i":0.4},{"p":-19.25,"i":1.4},{"p":-18.75,"i":-1.2},{"p":-18.25,"i":-1.9},{"p":-17.75,"i":2.0},{"p":-17.25,"i":0.4},{"p":-16.75,"i":-0.9},{"p":-16.25,"i":2.1},{"p":-15.75,"i":-1.7},{"p":-15.25,"i":0.2},
{"p":-14.75,"i":-1.3},{"p":-14.25,"i":2.3},{"p":-13.75,"i":0.6},{"p":-13.25,"i":-2.1},{"p":-12.75,"i":1.5},{"p":-12.25,"i":0.9},{"p":-11.75,"i":-1.6},{"p":-11.25,"i":-0.3},{"p":-10.75,"i":2.1},{"p":-10.25,"i":-1.5},
{"p":-9.75,"i":0.5},{"p":-9.25,"i":-2.2},{"p":-8.75,"i":-0.6},{"p":-8.25,"i":1.9},{"p":-7.75,"i":-0.9},{"p":-6.75,"i":1.9},{"p":-6.25,"i":-1.7},{"p":-5.75,"i":0.4},{"p":-5.25,"i":-0.8},{"p":-4.75,"i":-1.9},
{"p":-4.25,"i":1.3},{"p":-3.75,"i":2.0},{"p":-3.25,"i":-1.5},{"p":-2.75,"i":0.7},{"p":-2.25,"i":1.6},{"p":-1.75,"i":-1.8},{"p":-1.25,"i":-0.2},{"p":-0.75,"i":1.0},{"p":-0.25,"i":-2.0},{"p":0.25,"i":2.2},
{"p":0.75,"i":-1.1},{"p":1.25,"i":0.5},{"p":1.75,"i":-0.9},{"p":2.25,"i":1.7},{"p":2.75,"i":-2.0},{"p":3.25,"i":0.9},{"p":3.75,"i":1.9},{"p":4.25,"i":-1.3},{"p":4.75,"i":-0.5},{"p":5.25,"i":1.8},
{"p":5.75,"i":-1.9},{"p":6.25,"i":0.5},{"p":6.75,"i":1.2},{"p":7.25,"i":-0.7},{"p":7.75,"i":1.0},{"p":8.25,"i":-1.8},{"p":8.75,"i":2.1},{"p":9.25,"i":0.3},{"p":9.75,"i":-1.9},{"p":10.25,"i":-0.6},
{"p":10.75,"i":1.4},{"p":11.25,"i":0.9},{"p":11.75,"i":-1.3},{"p":12.25,"i":-1.7},{"p":12.75,"i":2.0},{"p":13.25,"i":0.5},{"p":13.75,"i":-1.6},{"p":14.25,"i":1.8},{"p":14.75,"i":-0.7},{"p":15.25,"i":-1.1},
{"p":15.75,"i":-0.6},{"p":16.25,"i":2.0},{"p":16.75,"i":1.2},{"p":17.25,"i":-1.0},{"p":17.75,"i":0.5},{"p":18.25,"i":-1.8},{"p":18.75,"i":-0.6},{"p":19.25,"i":1.7},{"p":19.75,"i":-1.1},{"p":20.25,"i":0.2},
{"p":20.75,"i":2.2},{"p":21.25,"i":-0.7},{"p":21.75,"i":-1.5},{"p":22.25,"i":1.6},{"p":22.75,"i":-0.4},{"p":23.25,"i":-1.9},{"p":23.75,"i":0.8},{"p":25.25,"i":0.3},{"p":25.75,"i":-1.9},{"p":26.25,"i":-0.3},
{"p":26.75,"i":-1.6},{"p":27.75,"i":-1.5},{"p":28.25,"i":0.6},{"p":28.75,"i":1.5},{"p":29.25,"i":-1.6},{"p":29.75,"i":0.1},{"p":30.25,"i":2.0},{"p":30.75,"i":-1.5},{"p":31.25,"i":0.4},{"p":31.75,"i":1.4},
{"p":32.25,"i":-1.5},{"p":32.75,"i":-0.8},{"p":33.25,"i":1.8},{"p":33.75,"i":-1.4},{"p":34.25,"i":1.1},{"p":34.75,"i":0.2},{"p":35.25,"i":2.1},{"p":35.75,"i":-1.6},{"p":36.25,"i":-0.4},{"p":36.75,"i":1.6},
{"p":37.25,"i":-1.7},{"p":37.75,"i":1.3},{"p":38.25,"i":0.5},{"p":38.75,"i":-0.8},{"p":39.25,"i":2.0},{"p":39.75,"i":0.6},{"p":40.25,"i":-1.9},{"p":40.75,"i":1.6},{"p":41.25,"i":-0.9},{"p":41.75,"i":0.6},
{"p":42.25,"i":-1.4},{"p":42.75,"i":-0.6},{"p":43.25,"i":1.9},{"p":44.25,"i":-1.7},{"p":44.75,"i":0.9},{"p":46.25,"i":1.8},{"p":46.75,"i":0.3},{"p":47.25,"i":-1.5},{"p":47.75,"i":1.9},{"p":48.25,"i":0.4},
{"p":48.75,"i":-1.2},{"p":49.25,"i":-0.4},{"p":49.75,"i":2.1},{"p":50.25,"i":-0.7},{"p":51.25,"i":-1.5},{"p":51.75,"i":-1.0},{"p":53.25,"i":-1.2},{"p":53.75,"i":0.8},{"p":54.25,"i":-2.0},{"p":54.75,"i":0.5},
{"p":55.25,"i":1.9},{"p":55.75,"i":-1.6},{"p":56.25,"i":-0.3},{"p":56.75,"i":1.2},{"p":57.25,"i":-1.9},{"p":57.75,"i":0.7},{"p":58.25,"i":0.6},{"p":58.75,"i":-1.7},{"p":59.25,"i":1.8},{"p":59.75,"i":-0.8},
{"p":60.25,"i":-1.2},{"p":60.75,"i":1.7},{"p":61.25,"i":-1.1},{"p":61.75,"i":0.3},{"p":62.25,"i":1.9},{"p":62.75,"i":-1.7},{"p":63.25,"i":-0.4},{"p":64.25,"i":-1.6},{"p":64.75,"i":0.6},{"p":65.25,"i":1.7},
{"p":65.75,"i":-0.8},{"p":66.25,"i":-1.3},{"p":66.75,"i":2.0},{"p":67.25,"i":0.6},{"p":67.75,"i":-1.8},{"p":68.25,"i":-0.7},{"p":68.75,"i":1.5},{"p":69.25,"i":0.9},{"p":69.75,"i":-1.8},{"p":70.25,"i":-0.2},
{"p":70.75,"i":2.0},{"p":71.25,"i":-1.5},{"p":71.75,"i":-0.9},{"p":72.25,"i":1.7},{"p":72.75,"i":-1.5},{"p":73.25,"i":1.0},{"p":73.75,"i":0.2},{"p":74.25,"i":-1.8},{"p":74.75,"i":2.1}
],
"contours": [
{"f2":63.5,"f1":63.6,"s":"v","lv":2},{"f2":63.5,"f1":63.6,"s":"o","lv":1},
{"f2":52.3,"f1":52.3,"s":"o","lv":4},{"f2":52.3,"f1":52.3,"s":"o","lv":2},{"f2":52.3,"f1":52.3,"s":"v","lv":5},
{"f2":50.45,"f1":50.5,"s":"o","lv":4},{"f2":50.45,"f1":50.5,"s":"o","lv":2},{"f2":50.45,"f1":50.5,"s":"v","lv":5},
{"f2":45.3,"f1":45.3,"s":"o","lv":5},{"f2":45.3,"f1":45.3,"s":"o","lv":3},{"f2":45.3,"f1":45.3,"s":"o","lv":1},{"f2":45.3,"f1":45.3,"s":"v","lv":6},
{"f2":43.6,"f1":43.8,"s":"v","lv":6},{"f2":43.6,"f1":43.8,"s":"o","lv":4},{"f2":43.6,"f1":43.8,"s":"o","lv":2},{"f2":43.6,"f1":43.8,"s":"n","lv":7},
{"f2":27.0,"f1":27.0,"s":"o","lv":7},{"f2":27.0,"f1":27.0,"s":"o","lv":5},{"f2":27.0,"f1":27.0,"s":"o","lv":3},{"f2":27.0,"f1":27.0,"s":"o","lv":1},{"f2":27.0,"f1":27.0,"s":"n","lv":8},{"f2":27.0,"f1":27.0,"s":"h","lv":6},{"f2":25.9,"f1":27.3,"s":"h","lv":4},
{"f2":24.3,"f1":24.1,"s":"v","lv":7},{"f2":24.3,"f1":24.1,"s":"v","lv":5},{"f2":24.3,"f1":24.1,"s":"v","lv":3},{"f2":24.3,"f1":24.1,"s":"o","lv":1},
{"f2":-7.3,"f1":-7.2,"s":"n","lv":10},{"f2":-7.3,"f1":-7.2,"s":"h","lv":7},{"f2":-7.3,"f1":-7.2,"s":"o","lv":5},{"f2":-7.3,"f1":-7.2,"s":"o","lv":3},{"f2":-7.3,"f1":-7.2,"s":"o","lv":1},{"f2":-7.3,"f1":-7.2,"s":"n","lv":8},
{"f2":-26.6,"f1":-26.2,"s":"o","lv":5},{"f2":-26.6,"f1":-26.2,"s":"o","lv":4},{"f2":-26.6,"f1":-26.2,"s":"o","lv":3},{"f2":-26.6,"f1":-26.2,"s":"o","lv":2},
{"f2":-38.2,"f1":-38.9,"s":"n","lv":9},{"f2":-38.2,"f1":-38.9,"s":"h","lv":7},{"f2":-38.2,"f1":-38.9,"s":"h","lv":6},{"f2":-38.2,"f1":-38.9,"s":"o","lv":5},{"f2":-38.2,"f1":-38.9,"s":"o","lv":4},{"f2":-38.2,"f1":-38.9,"s":"o","lv":3},{"f2":-38.2,"f1":-38.9,"s":"o","lv":2},{"f2":-37.2,"f1":-38.3,"s":"h","lv":5},
{"f2":-39.9,"f1":-40.5,"s":"v","lv":6},{"f2":-39.9,"f1":-40.5,"s":"v","lv":4},{"f2":-39.9,"f1":-40.5,"s":"o","lv":2},
{"f2":-41.0,"f1":-37.9,"s":"o","lv":0},
{"f2":-46.9,"f1":-46.8,"s":"v","lv":6},{"f2":-46.9,"f1":-46.8,"s":"v","lv":4},{"f2":-46.9,"f1":-46.8,"s":"o","lv":3},{"f2":-46.9,"f1":-46.8,"s":"o","lv":1},
{"f2":-48.5,"f1":-48.3,"s":"v","lv":6},{"f2":-48.5,"f1":-48.3,"s":"v","lv":4},{"f2":-48.5,"f1":-48.3,"s":"o","lv":3},{"f2":-48.5,"f1":-48.3,"s":"o","lv":1},{"f2":-48.5,"f1":-48.3,"s":"n","lv":7},
{"f2":-38.2,"f1":-48.5,"s":"v","lv":3},{"f2":-38.2,"f1":-46.5,"s":"v","lv":3},{"f2":-38.2,"f1":-46.5,"s":"o","lv":1},
{"f2":-46.9,"f1":-37.9,"s":"v","lv":3},{"f2":-46.9,"f1":-37.9,"s":"o","lv":1},{"f2":-48.5,"f1":-37.9,"s":"v","lv":3},{"f2":-48.5,"f1":-37.9,"s":"o","lv":1},
{"f2":45.2,"f1":-47.4,"s":"v","lv":7},{"f2":45.2,"f1":-47.4,"s":"n","lv":8},{"f2":45.2,"f1":-48.2,"s":"v","lv":3},{"f2":45.2,"f1":-48.2,"s":"o","lv":1},{"f2":45.2,"f1":-46.7,"s":"v","lv":3},{"f2":45.2,"f1":-46.7,"s":"o","lv":1},
{"f2":43.6,"f1":-47.4,"s":"v","lv":7},{"f2":43.6,"f1":-47.4,"s":"n","lv":8},{"f2":43.6,"f1":-48.2,"s":"v","lv":3},{"f2":43.6,"f1":-48.2,"s":"o","lv":1},{"f2":43.6,"f1":-46.7,"s":"v","lv":3},{"f2":43.6,"f1":-46.7,"s":"o","lv":1},
{"f2":52.25,"f1":-39.3,"s":"n","lv":8},{"f2":52.25,"f1":-39.3,"s":"n","lv":7},{"f2":52.25,"f1":-40.2,"s":"v","lv":2},{"f2":52.25,"f1":-38.5,"s":"v","lv":2},
{"f2":50.4,"f1":-39.3,"s":"n","lv":8},{"f2":50.4,"f1":-39.3,"s":"n","lv":7},{"f2":50.4,"f1":-40.2,"s":"v","lv":2},{"f2":50.4,"f1":-38.5,"s":"v","lv":2},
{"f2":45.2,"f1":27.2,"s":"v","lv":2},{"f2":43.6,"f1":27.2,"s":"v","lv":2},{"f2":-38.2,"f1":27.2,"s":"v","lv":3},{"f2":-38.2,"f1":27.2,"s":"o","lv":1},{"f2":-39.9,"f1":24.4,"s":"n","lv":3},{"f2":-46.9,"f1":27.2,"s":"o","lv":0},{"f2":-48.6,"f1":26.9,"s":"o","lv":0},
{"f2":-46.9,"f1":44.6,"s":"v","lv":7},{"f2":-46.9,"f1":44.6,"s":"n","lv":8},{"f2":-46.9,"f1":43.9,"s":"v","lv":3},{"f2":-46.9,"f1":43.9,"s":"o","lv":1},{"f2":-46.9,"f1":45.7,"s":"v","lv":3},{"f2":-46.9,"f1":45.7,"s":"o","lv":1},
{"f2":-48.6,"f1":44.6,"s":"v","lv":7},{"f2":-48.6,"f1":44.6,"s":"n","lv":8},{"f2":-48.6,"f1":43.9,"s":"v","lv":3},{"f2":-48.6,"f1":43.9,"s":"o","lv":1},{"f2":-48.6,"f1":45.7,"s":"v","lv":3},{"f2":-48.6,"f1":45.7,"s":"o","lv":1},
{"f2":-38.8,"f1":50.7,"s":"o","lv":4},{"f2":-38.8,"f1":50.7,"s":"o","lv":2},{"f2":-38.8,"f1":52.5,"s":"o","lv":4},{"f2":-38.8,"f1":52.5,"s":"o","lv":2},
{"f2":-40.7,"f1":50.4,"s":"o","lv":4},{"f2":-40.7,"f1":50.4,"s":"o","lv":2},{"f2":-40.7,"f1":52.5,"s":"o","lv":4},{"f2":-40.7,"f1":52.5,"s":"o","lv":2},
{"f2":27.0,"f1":-38.0,"s":"o","lv":1},{"f2":24.4,"f1":-40.2,"s":"o","lv":1}
],
"diag": [{"f2":75,"f1":75},{"f2":-75,"f1":-75}],
"guides": [
{"g":"II","f2":27.0,"f1":-76.4,"f2b":27.0,"f1b":44.8},
{"g":"II","f2":77.4,"f1":-47.3,"f2b":27.0,"f1b":-47.3},
{"g":"II","f2":77.4,"f1":-38.0,"f2b":27.0,"f1b":-38.0},
{"g":"II","f2":77.4,"f1":27.0,"f2b":27.0,"f1b":27.0},
{"g":"II","f2":77.4,"f1":44.8,"f2b":27.0,"f1b":44.8},
{"g":"III","f2":24.4,"f1":-75.0,"f2b":24.4,"f1b":-40.2},
{"g":"III","f2":77.4,"f1":-40.2,"f2b":24.4,"f1b":-40.2},
{"g":"I","f2":-39.6,"f1":-74.5,"f2b":-39.6,"f1b":52.0},
{"g":"I","f2":77.4,"f1":51.45,"f2b":-39.6,"f1b":52.0}
],
"legend": [
{"g":"I","f2":-0.3,"f2b":-10.3,"f1":-60.0},
{"g":"II","f2":-0.25,"f2b":-9.9,"f1":-50.0},
{"g":"III","f2":-0.3,"f2b":-10.3,"f1":-40.0}
],
"tags": [
{"t":"I","f2":-13.0,"f1":-60.2},
{"t":"II","f2":-13.0,"f1":-50.2},
{"t":"III","f2":-13.0,"f1":-40.4},
{"t":"III","f2":20.8,"f1":14.2}
],
"annot": [
{"f2":27.0,"f1":-47.3,"label":"{27.0,-47.4}","side":"L"},
{"f2":27.0,"f1":-38.0,"label":"{27.0,-38.0}","side":"L"},
{"f2":24.4,"f1":-40.2,"label":"{24.4,-39.8}","side":"R"},
{"f2":27.0,"f1":44.8,"label":"{27.0,44.5}","side":"L"},
{"f2":-39.7,"f1":51.2,"label":"{-39.6,51.3}","side":"L"}
]
},
"concat": [
{"data": {"values": [{}]}, "mark": {"type": "point", "opacity": 0}, "width": 165, "height": 165},
{"data": {"name": "top"}, "width": 1483, "height": 165,
 "mark": {"type": "line", "stroke": "black", "strokeWidth": 1.4},
 "encoding": {
  "x": {"field": "p", "type": "quantitative", "scale": {"domain": [-75, 75], "reverse": true, "nice": false, "zero": false}, "axis": null},
  "y": {"field": "i", "type": "quantitative", "scale": {"domain": [-5, 160], "nice": false, "zero": false}, "axis": null}
 }},
{"data": {"name": "left"}, "width": 165, "height": 990,
 "mark": {"type": "line", "stroke": "black", "strokeWidth": 1.4},
 "encoding": {
  "x": {"field": "i", "type": "quantitative", "scale": {"domain": [-5, 160], "reverse": true, "nice": false, "zero": false}, "axis": null},
  "y": {"field": "p", "type": "quantitative", "scale": {"domain": [-75, 75], "reverse": true, "nice": false, "zero": false}, "axis": null},
  "order": {"field": "p", "type": "quantitative"}
 }},
{"width": 1483, "height": 990,
 "encoding": {
  "x": {"field": "f2", "type": "quantitative", "scale": {"domain": [-75, 75], "reverse": true, "nice": false, "zero": false},
   "axis": {"orient": "bottom", "offset": 9, "values": [75,70,65,60,55,50,45,40,35,30,25,20,15,10,5,0,-5,-10,-15,-20,-25,-30,-35,-40,-45,-50,-55,-60,-65,-70,-75],
    "labelExpr": "datum.value % 10 === 0 ? '' + datum.value : ''", "labelOverlap": false, "labelFlush": false, "grid": false,
    "tickSize": 7, "tickColor": "#333", "tickWidth": 1.2, "domainColor": "#333", "domainWidth": 1.5,
    "labelFont": "DejaVu Sans", "labelFontSize": 18, "labelColor": "#111", "labelPadding": 8,
    "title": "f2 (ppm)", "titleFont": "DejaVu Sans", "titleFontSize": 19, "titleFontWeight": "normal", "titleColor": "#111", "titlePadding": 5}},
  "y": {"field": "f1", "type": "quantitative", "scale": {"domain": [-75, 75], "reverse": true, "nice": false, "zero": false},
   "axis": {"orient": "right", "offset": 9, "values": [75,70,65,60,55,50,45,40,35,30,25,20,15,10,5,0,-5,-10,-15,-20,-25,-30,-35,-40,-45,-50,-55,-60,-65,-70,-75],
    "labelExpr": "datum.value % 10 === 0 ? '' + datum.value : ''", "labelOverlap": false, "labelFlush": false, "grid": false,
    "tickSize": 9, "tickColor": "#111", "tickWidth": 1.2, "domainColor": "#111", "domainWidth": 1.5,
    "labelFont": "DejaVu Sans", "labelFontSize": 18, "labelColor": "#111", "labelPadding": 6,
    "title": "f1 (ppm)", "titleFont": "DejaVu Sans", "titleFontSize": 18, "titleFontWeight": "normal", "titleColor": "#111",
    "titleAngle": 270, "titleBaseline": "top", "titlePadding": 44}}
 },
 "layer": [
  {"data": {"name": "contours"},
   "mark": {"type": "point", "filled": false, "stroke": "#2a2a2a", "strokeWidth": 1, "opacity": 1},
   "encoding": {
    "shape": {"field": "s", "type": "nominal", "legend": null, "scale": {"domain": ["o", "v", "n", "h"], "range": [
      "M0,-1C0.414,-1 0.75,-0.552 0.75,0C0.75,0.552 0.414,1 0,1C-0.414,1 -0.75,0.552 -0.75,0C-0.75,-0.552 -0.414,-1 0,-1Z",
      "M0,-1C0.249,-1 0.45,-0.552 0.45,0C0.45,0.552 0.249,1 0,1C-0.249,1 -0.45,0.552 -0.45,0C-0.45,-0.552 -0.249,-1 0,-1Z",
      "M0,-1C0.11,-1 0.2,-0.552 0.2,0C0.2,0.552 0.11,1 0,1C-0.11,1 -0.2,0.552 -0.2,0C-0.2,-0.552 -0.11,-1 0,-1Z",
      "M-1,0C-1,-0.249 -0.552,-0.45 0,-0.45C0.552,-0.45 1,-0.249 1,0C1,0.249 0.552,0.45 0,0.45C-0.552,0.45 -1,0.249 -1,0Z"]}},
    "size": {"field": "lv", "type": "quantitative", "legend": null, "scale": {"type": "linear", "zero": false, "nice": false, "domain": [0,1,2,3,4,5,6,7,8,9,10], "range": [9,36,81,144,256,400,676,1156,1936,3136,5184]}}
   }},
  {"data": {"name": "diag"}, "mark": {"type": "line", "stroke": "black", "strokeWidth": 2}, "encoding": {}},
  {"data": {"name": "guides"},
   "mark": {"type": "rule", "strokeDash": [7, 3], "strokeWidth": 1.8},
   "encoding": {"x2": {"field": "f2b"}, "y2": {"field": "f1b"},
    "color": {"field": "g", "type": "nominal", "legend": null, "scale": {"domain": ["I", "II", "III"], "range": ["#FF00FF", "#FF3B3B", "#0000FF"]}}}},
  {"data": {"name": "legend"},
   "mark": {"type": "rule", "strokeDash": [7, 3], "strokeWidth": 1.8},
   "encoding": {"x2": {"field": "f2b"},
    "color": {"field": "g", "type": "nominal", "legend": null, "scale": {"domain": ["I", "II", "III"], "range": ["#FF00FF", "#FF3B3B", "#0000FF"]}}}},
  {"data": {"name": "tags"},
   "mark": {"type": "text", "font": "Liberation Sans", "fontWeight": "bold", "fontSize": 30, "align": "left", "baseline": "middle", "color": "black"},
   "encoding": {"text": {"field": "t"}}},
  {"data": {"name": "annot"},
   "mark": {"type": "point", "shape": "M-1,0L1,0M0,-1L0,1", "size": 81, "filled": false, "stroke": "#000080", "strokeWidth": 1.3, "opacity": 1},
   "encoding": {}},
  {"data": {"name": "annot"}, "transform": [{"filter": "datum.side === 'L'"}],
   "mark": {"type": "point", "shape": "M0,0L-2,-0.3L-2,0.3Z", "size": 676, "filled": true, "fill": "#000080", "stroke": "#000080", "strokeWidth": 0.5, "angle": 40, "opacity": 1},
   "encoding": {}},
  {"data": {"name": "annot"}, "transform": [{"filter": "datum.side === 'R'"}],
   "mark": {"type": "point", "shape": "M0,0L-2,-0.3L-2,0.3Z", "size": 676, "filled": true, "fill": "#000080", "stroke": "#000080", "strokeWidth": 0.5, "angle": 131, "opacity": 1},
   "encoding": {}},
  {"data": {"name": "annot"}, "transform": [{"filter": "datum.side === 'L'"}],
   "mark": {"type": "text", "align": "right", "baseline": "middle", "dx": -11, "dy": -28, "font": "DejaVu Sans", "fontSize": 21, "color": "#000080"},
   "encoding": {"text": {"field": "label"}}},
  {"data": {"name": "annot"}, "transform": [{"filter": "datum.side === 'R'"}],
   "mark": {"type": "text", "align": "left", "baseline": "middle", "dx": 21, "dy": -27, "font": "DejaVu Sans", "fontSize": 21, "color": "#000080"},
   "encoding": {"text": {"field": "label"}}}
 ]}
]
}
